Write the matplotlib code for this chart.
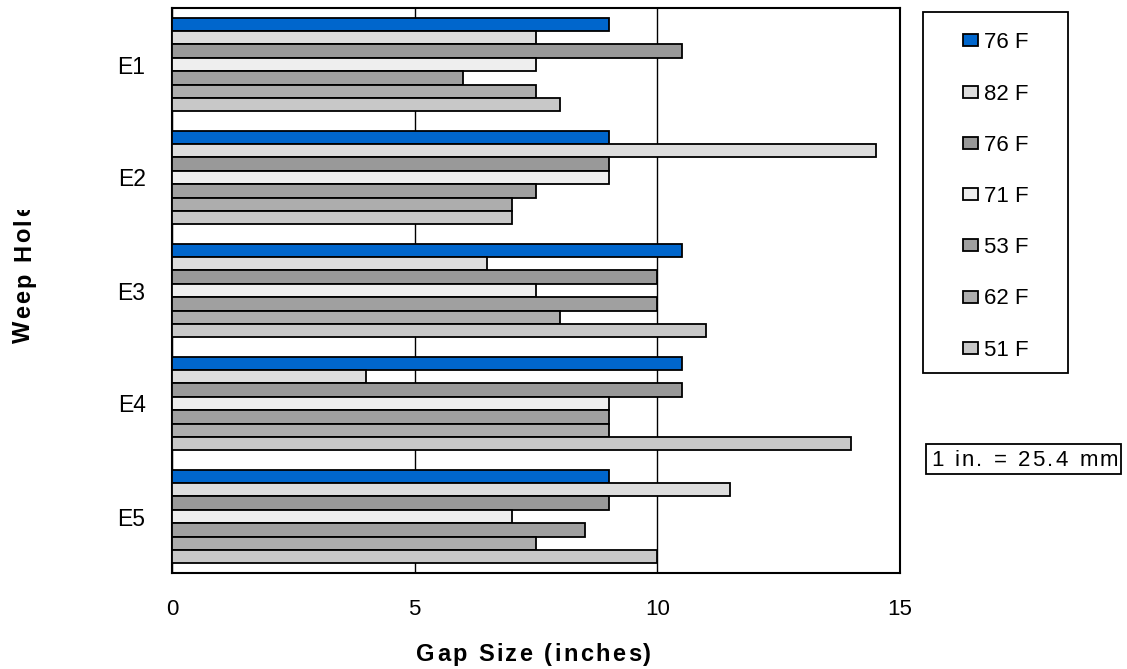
import matplotlib.pyplot as plt
import numpy as np
from matplotlib.font_manager import FontProperties, findfont, get_font
from matplotlib.patches import Rectangle
from matplotlib.transforms import offset_copy

plt.rcParams['font.family'] = ['Liberation Sans', 'DejaVu Sans']

holes = ['E1', 'E2', 'E3', 'E4', 'E5']
temps = ['76 F', '82 F', '76 F', '71 F', '53 F', '62 F', '51 F']
colors = ['#0066CC', '#DDDDDD', '#999999', '#EEEEEE', '#A0A0A0', '#ADADAD', '#C8C8C8']

# gap size (inches) per weep hole, one list per reading
gap_76a = [9.0, 9.0, 10.5, 10.5, 9.0]
gap_82 = [7.5, 14.5, 6.5, 4.0, 11.5]
gap_76b = [10.5, 9.0, 10.0, 10.5, 9.0]
gap_71 = [7.5, 9.0, 7.5, 9.0, 7.0]
gap_53 = [6.0, 7.5, 10.0, 9.0, 8.5]
gap_62 = [7.5, 7.0, 8.0, 9.0, 7.5]
gap_51 = [8.0, 7.0, 11.0, 14.0, 10.0]
series = [gap_76a, gap_82, gap_76b, gap_71, gap_53, gap_62, gap_51]

W, H = 1127, 669
fig = plt.figure(figsize=(W / 100, H / 100), dpi=100)
ax = fig.add_axes([172 / W, 1 - 573 / H, 728 / W, 565 / H])


def spaced_text(x, y, s, track, size, weight='normal', rotation=0):
    """Write s one glyph at a time starting at pixel (x, y) on the baseline,
    adding `track` extra pixels between glyphs."""
    fp = FontProperties(family='Liberation Sans', size=size, weight=weight)
    font = get_font(findfont(fp))
    font.set_size(size, 100)
    pos = 0.0
    for ch in s:
        if rotation == 90:
            dx, dy = 0, pos
        else:
            dx, dy = pos, 0
        tr = offset_copy(fig.transFigure, fig=fig, x=dx, y=dy, units='dots')
        fig.text(x / W, 1 - y / H, ch, fontproperties=fp, rotation=rotation,
                 rotation_mode='anchor', ha='left', va='baseline', transform=tr)
        adv = font.load_char(ord(ch)).linearHoriAdvance / 65536
        pos += adv + track


y = np.arange(len(holes))
h = 0.118
bars = []
for i, (vals, col, lab) in enumerate(zip(series, colors, temps)):
    b = ax.barh(y + (i - 3) * h, vals, height=h, color=col, edgecolor='black',
                linewidth=1.3, label=lab, zorder=3)
    bars.append(b)

ax.set_xlim(0, 15)
ax.set_ylim(len(holes) - 0.5, -0.5)
ax.set_xticks([0, 5, 10, 15])
ax.set_xticklabels(['0', '5', '10', '15'], fontsize=16)
ax.set_yticks(y)
ax.set_yticklabels(holes, fontsize=16.5)
ax.tick_params(axis='x', length=0, pad=19)
ax.tick_params(axis='y', length=0, pad=19)
ax.xaxis.grid(True, color='black', linewidth=1, zorder=0)
for s in ax.spines.values():
    s.set_linewidth(1.5)

# axis titles, bold and letter-spaced
spaced_text(416, 661, 'Gap Size (inches)', 2.4, 17, weight='bold')
spaced_text(30, 343, 'Weep Hole', 2.4, 17, weight='bold', rotation=90)
# the y title runs off the top of its strip
fig.add_artist(Rectangle((0, 1 - 210 / H), 60 / W, 210 / H,
                         transform=fig.transFigure, facecolor='white',
                         edgecolor='none', zorder=4))

leg = fig.legend(handles=bars, labels=temps, loc='center',
                 bbox_to_anchor=(996 / W, 1 - 196.5 / H), fontsize=16,
                 frameon=False, handlelength=0.68, handleheight=0.45,
                 handletextpad=0.27, labelspacing=1.36, borderpad=0,
                 borderaxespad=0)
for p in leg.get_patches():
    p.set_linewidth(1.3)
fig.add_artist(Rectangle((923 / W, 1 - 373 / H), 145 / W, 361 / H,
                         transform=fig.transFigure, fill=False,
                         edgecolor='black', linewidth=1.3))

# unit note
fig.add_artist(Rectangle((926 / W, 1 - 474 / H), 195 / W, 30 / H,
                         transform=fig.transFigure, facecolor='white',
                         edgecolor='black', linewidth=1.3))
spaced_text(931, 466, '1 in. = 25.4 mm', 2.4, 16)

fig.savefig('out.png', dpi=100)
